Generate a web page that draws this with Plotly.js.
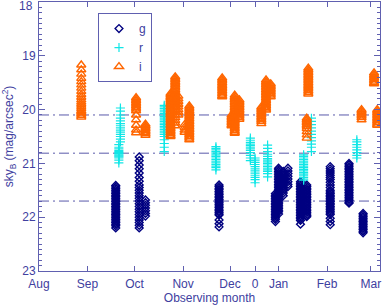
<!DOCTYPE html>
<html>
<head>
<meta charset="utf-8">
<script src="https://cdn.plot.ly/plotly-3.0.1.min.js"></script>
<style>html,body{margin:0;padding:0;background:#fff;}#chart{width:382px;height:306px;}</style>
</head>
<body>
<div id="chart"></div>
<script>
// ---- data ----
const monthTickDates = ['2009-08-01','2009-09-01','2009-10-01','2009-11-01','2009-12-01','2009-12-17','2010-01-01','2010-02-01','2010-03-01'];
const monthTickLabels = ['Aug','Sep','Oct','Nov','Dec','0','Jan','Feb','Mar'];
const yTickVals = [18, 19, 20, 21, 22, 23];
const yTickLabels = ['18', '19', '20', '21', '22', '23'];
const refLevels = [20.10, 20.81, 21.70];

// g band: observing nights and sky brightness values
const gDates = ['2009-09-19','2009-10-04','2009-10-08','2009-11-24','2009-12-30','2010-01-01','2010-01-04','2010-01-07','2010-01-15','2010-01-19','2010-02-03','2010-02-15','2010-02-24'];
const gMags = [
  [21.41,21.44,21.47,21.5,21.53,21.56,21.59,21.62,21.65,21.68,21.71,21.74,21.77,21.8,21.83,21.86,21.89,21.92,21.95,21.98,22.01,22.04,22.07,22.1,22.13,22.16,22.2],
  [20.88,20.95,21.03,21.1,21.18,21.26,21.33,21.4,21.45,21.5,21.55,21.6,21.65,21.7,21.75,21.8,21.85,21.9,21.95,22.0,22.05,22.1,22.15,22.2],
  [21.68,21.73,21.78,21.83,21.88,21.93,21.98],
  [21.4,21.43,21.46,21.49,21.52,21.55,21.58,21.61,21.64,21.67,21.7,21.73,21.76,21.79,21.82,21.85,21.88,21.91,21.94,21.96,22.05,22.12,22.18],
  [21.56,21.59,21.62,21.65,21.68,21.71,21.74,21.77,21.8,21.83,21.86,21.89,21.92,21.95,21.98,22.01,22.04,22.08],
  [21.09,21.12,21.15,21.18,21.21,21.24,21.27,21.3,21.33,21.36,21.39,21.42,21.45,21.48,21.51,21.54,21.57,21.6,21.63,21.66,21.69,21.72,21.75,21.78,21.81,21.84,21.87,21.9,21.94],
  [21.15,21.18,21.21,21.24,21.27,21.3,21.33,21.36,21.39,21.42,21.45,21.48,21.51,21.55,21.6],
  [21.09,21.14,21.19,21.24,21.29,21.34,21.39,21.43],
  [21.34,21.37,21.4,21.43,21.46,21.49,21.52,21.55,21.58,21.61,21.64,21.67,21.7,21.73,21.76,21.79,21.82,21.85,21.88,21.91,21.94,21.97,22.0,22.03,22.06,22.13],
  [21.4,21.43,21.46,21.49,21.52,21.55,21.58,21.61,21.64,21.67,21.7,21.73,21.76,21.79,21.82,21.85,21.88,21.91,21.94,21.97,21.99],
  [21.06,21.1,21.14,21.18,21.22,21.26,21.3,21.35,21.4,21.45,21.5,21.53,21.56,21.59,21.62,21.65,21.68,21.71,21.74,21.77,21.8,21.83,21.86,21.89,21.92,21.95,22.02,22.08,22.14],
  [21.0,21.03,21.06,21.09,21.12,21.15,21.18,21.21,21.24,21.27,21.3,21.33,21.36,21.39,21.42,21.45,21.48,21.51,21.54,21.57,21.6,21.63,21.66,21.69,21.72,21.74],
  [21.93,21.96,21.99,22.02,22.05,22.08,22.11,22.14,22.17,22.2,22.23,22.26,22.29]
];

// r band
const rDates = ['2009-09-21','2009-09-22','2009-10-20','2009-11-22','2009-12-14','2009-12-17','2009-12-25','2010-01-17','2010-01-22','2010-02-20'];
const rMags = [
  [20.65,20.7,20.73,20.76,20.78,20.8,20.82,20.84,20.86,20.88,20.9,20.94,20.99],
  [19.97,20.03,20.1,20.16,20.21,20.26,20.3,20.34,20.38,20.42,20.46,20.5,20.55,20.6],
  [19.92,19.95,19.98,20.01,20.04,20.07,20.1,20.13,20.16,20.19,20.22,20.25,20.28,20.31,20.34,20.37,20.4,20.43,20.46,20.5,20.56,20.63,20.7,20.78],
  [20.69,20.72,20.75,20.78,20.81,20.84,20.87,20.9,20.93,20.96,20.99,21.02,21.05,21.08,21.12],
  [20.53,20.57,20.61,20.64,20.67,20.7,20.73,20.76,20.8,20.85,20.9,20.95],
  [20.9,20.94,20.98,21.02,21.06,21.1,21.14,21.18,21.22,21.26,21.3,21.36],
  [20.66,20.72,20.78,20.83,20.87,20.91,20.94,20.97,21.0,21.03,21.06,21.09,21.12,21.15,21.19,21.25],
  [20.84,20.87,20.9,20.93,20.96,20.99,21.02,21.05,21.08,21.11,21.14,21.17,21.2,21.23,21.26,21.29,21.31],
  [20.16,20.22,20.28,20.34,20.4,20.46,20.52,20.58,20.64,20.7,20.78],
  [20.56,20.6,20.65,20.7,20.75,20.8,20.85,20.9]
];

// i band
const iDates = ['2009-08-28','2009-10-02','2009-10-08','2009-10-24','2009-10-27','2009-10-29','2009-11-02','2009-11-05','2009-11-26','2009-12-02','2009-12-04','2009-12-07','2009-12-21','2009-12-24','2009-12-27','2010-01-19','2010-01-20','2010-02-23','2010-03-03','2010-03-05'];
const iMags = [
  [19.17,19.26,19.34,19.42,19.48,19.54,19.6,19.66,19.72,19.77,19.82,19.86,19.9,19.94,19.98,20.02,20.05,20.08,20.11,20.14],
  [19.78,19.81,19.84,19.87,19.9,19.93,19.96,19.99,20.02,20.1,20.19,20.29,20.38,20.43],
  [20.27,20.3,20.33,20.36,20.39,20.42,20.45,20.48],
  [19.7,19.73,19.76,19.79,19.82,19.85,19.88,19.91,19.94,19.97,20.0,20.03,20.06,20.09,20.12,20.15,20.18,20.21,20.24,20.27,20.3,20.33,20.36,20.39,20.42,20.45,20.48,20.5],
  [19.39,19.42,19.45,19.48,19.51,19.54,19.57,19.6,19.63,19.66,19.69,19.72,19.75,19.78,19.81,19.84,19.87,19.9,19.93,19.96,20.0,20.05,20.1,20.15,20.2,20.25,20.3],
  [19.75,19.8,19.85,19.9,19.95,20.0,20.05,20.1],
  [20.28,20.33,20.38,20.42],
  [19.93,19.96,19.99,20.02,20.05,20.08,20.11,20.14,20.17,20.2,20.23,20.26,20.29,20.32,20.35,20.38,20.41,20.44,20.47,20.5,20.53,20.56],
  [19.41,19.44,19.47,19.5,19.53,19.56,19.59,19.62,19.65,19.68,19.71,19.74,19.76],
  [20.1,20.13,20.16,20.19,20.22,20.25,20.28,20.3],
  [19.73,19.76,19.79,19.82,19.85,19.88,19.91,19.94,19.97,20.0,20.03,20.06,20.09,20.12,20.15,20.18,20.21,20.24,20.27,20.3,20.33,20.36,20.39,20.42,20.44],
  [19.82,19.85,19.88,19.91,19.94,19.97,20.0,20.03,20.06,20.09,20.12,20.15,20.18],
  [19.95,19.98,20.01,20.04,20.07,20.1,20.13,20.16,20.19,20.22,20.26],
  [19.45,19.48,19.51,19.54,19.57,19.6,19.63,19.66,19.69,19.72,19.75,19.78,19.81,19.84,19.87,19.9,19.93,19.96,19.99,20.01],
  [19.52,19.55,19.58,19.61,19.64,19.67,19.7,19.73,19.76],
  [20.16,20.19,20.22,20.25,20.28,20.31,20.35,20.41,20.47,20.53],
  [19.23,19.26,19.29,19.32,19.35,19.38,19.41,19.44,19.47,19.5,19.53,19.56,19.59,19.62,19.65,19.68,19.71],
  [20.0,20.03,20.06,20.09,20.12,20.15,20.19],
  [19.32,19.35,19.38,19.41,19.44,19.47,19.5,19.52],
  [20.0,20.03,20.06,20.09,20.12,20.15,20.18,20.21,20.24,20.27,20.29]
];

// ---- build traces ----
function flatten(dates, mags) {
  const x = [], y = [];
  dates.forEach((d, k) => mags[k].forEach(v => { x.push(d); y.push(v); }));
  return {x, y};
}
const axisCol = 'rgb(96,96,176)';
const textCol = 'rgb(64,64,160)';
const FONT = 'Liberation Sans, Arial, sans-serif';

const g = flatten(gDates, gMags);
const r = flatten(rDates, rMags);
const ib = flatten(iDates, iMags);

const traces = [
  {x: g.x, y: g.y, name: 'g', type: 'scatter', mode: 'markers',
   marker: {symbol: 'diamond-open', size: 6, color: '#000080', line: {width: 1.4, color: '#000080'}}},
  {x: r.x, y: r.y, name: 'r', type: 'scatter', mode: 'markers',
   marker: {symbol: 'cross-thin-open', size: 6.5, color: '#10e6e6', line: {width: 1.2, color: '#10e6e6'}}},
  {x: ib.x, y: ib.y, name: 'i', type: 'scatter', mode: 'markers',
   marker: {symbol: 'triangle-up-open', size: 8, color: '#ff6600', line: {width: 1.4, color: '#ff6600'}}}
];

const shapes = refLevels.map(v => ({
  type: 'line', xref: 'paper', x0: 0, x1: 1, yref: 'y', y0: v, y1: v, layer: 'below',
  line: {color: 'rgb(90,90,170)', width: 1, dash: '10px,4px,2px,4px'}
}));

const layout = {
  width: 382, height: 306,
  margin: {l: 39, r: 2, t: 2, b: 35},
  paper_bgcolor: '#fff', plot_bgcolor: '#fff',
  font: {family: FONT, size: 12, color: textCol},
  showlegend: true,
  legend: {x: 0.173, y: 0.959, xanchor: 'left', yanchor: 'top', bgcolor: '#fff',
           bordercolor: axisCol, borderwidth: 1, itemwidth: 30,
           font: {family: FONT, size: 12, color: textCol}},
  hovermode: false,
  shapes: shapes,
  annotations: [{
    // top tick label, kept inside the figure as in the reference
    text: yTickLabels[0], xref: 'paper', x: 0, xanchor: 'right', xshift: -4,
    yref: 'y', y: yTickVals[0], yanchor: 'top', yshift: 5, showarrow: false,
    font: {family: FONT, size: 12, color: textCol}
  }],
  xaxis: {
    type: 'date', range: ['2009-08-01', '2010-03-06 19:00'],
    tickmode: 'array', tickvals: monthTickDates, ticktext: monthTickLabels,
    ticks: 'inside', ticklen: 5, tickwidth: 1, tickcolor: axisCol,
    showline: true, linecolor: axisCol, linewidth: 1, mirror: 'ticks',
    showgrid: false, zeroline: false, ticklabelstandoff: 2,
    tickfont: {family: FONT, size: 12, color: textCol},
    title: {text: 'Observing month', font: {family: FONT, size: 12, color: textCol}, standoff: 3}
  },
  yaxis: {
    range: [23, 18], tickmode: 'array', tickvals: yTickVals,
    ticktext: yTickLabels.map((t, k) => (k === 0 ? '' : t)),
    ticks: 'inside', ticklen: 6, tickwidth: 1, tickcolor: axisCol,
    minor: {dtick: 0.1, tick0: 18, ticks: 'inside', ticklen: 3, tickcolor: axisCol, showgrid: false},
    showline: true, linecolor: axisCol, linewidth: 1, mirror: 'ticks',
    showgrid: false, zeroline: false,
    tickfont: {family: FONT, size: 12, color: textCol},
    title: {text: 'sky<sub>B</sub> (mag/arcsec<sup>2</sup>)', font: {family: FONT, size: 12, color: textCol}, standoff: 6}
  }
};

Plotly.newPlot('chart', traces, layout, {displayModeBar: false, staticPlot: true});
</script>
</body>
</html>
